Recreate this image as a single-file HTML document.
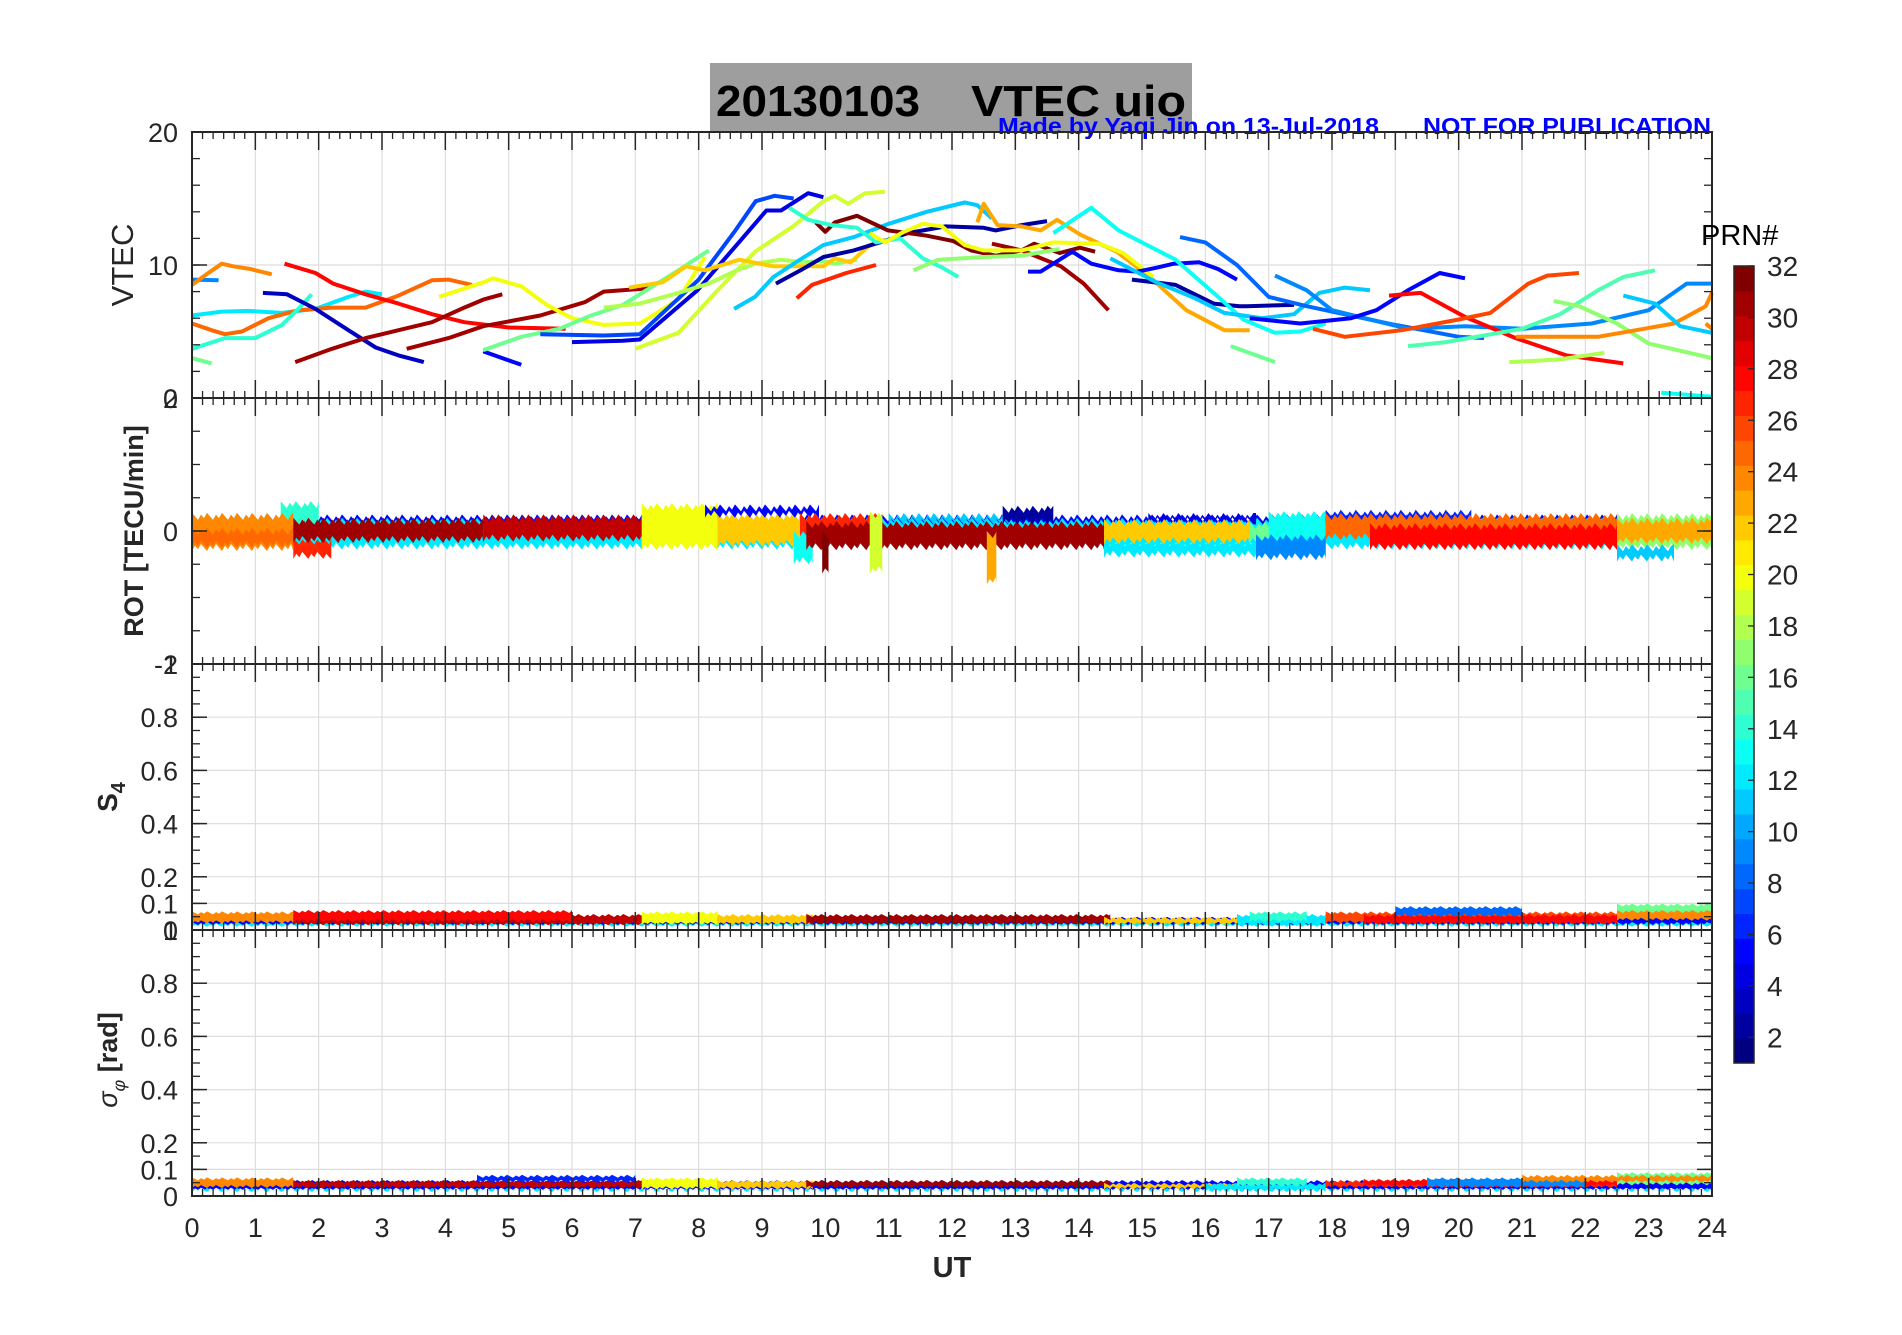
<!DOCTYPE html>
<html><head><meta charset="utf-8"><style>
html,body{margin:0;padding:0;background:#fff;}
svg text{font-family:"Liberation Sans",sans-serif;}
</style></head><body>
<svg id="fig" width="1902" height="1330" viewBox="0 0 1902 1330" xmlns="http://www.w3.org/2000/svg">
<rect x="0" y="0" width="1902" height="1330" fill="#fff"/>
<rect x="710" y="63" width="482" height="70" fill="#9e9e9e"/>
<text x="716" y="116" font-size="44" font-weight="bold" fill="#000" textLength="204" lengthAdjust="spacingAndGlyphs">20130103</text>
<text x="971" y="116" font-size="44" font-weight="bold" fill="#000" textLength="215" lengthAdjust="spacingAndGlyphs">VTEC  uio</text>
<text x="998" y="134" font-size="23" font-weight="bold" fill="#0000ff" textLength="381" lengthAdjust="spacingAndGlyphs">Made by Yaqi Jin on 13-Jul-2018</text>
<text x="1423" y="134" font-size="23" font-weight="bold" fill="#0000ff" textLength="288" lengthAdjust="spacingAndGlyphs">NOT FOR PUBLICATION</text>
<g id="grid"></g>
<g id="marks"></g>
<g id="axes"></g>
<g id="cbar"></g>
</svg>
<script>
// ---------- data ----------
const xTicks = [0,1,2,3,4,5,6,7,8,9,10,11,12,13,14,15,16,17,18,19,20,21,22,23,24];
const vtecTicks = [0,10,20];
const rotTicks = [-2,0,2];
const s4Ticks = [0,0.1,0.2,0.4,0.6,0.8,1];
const sigTicks = [0,0.1,0.2,0.4,0.6,0.8,1];
const cbarTicks = [2,4,6,8,10,12,14,16,18,20,22,24,26,28,30,32];

// VTEC arcs: PRN, times (UT h), values (TECU)
const arcPrn = [9,24,12,25,14,16,3,28,31,31,20,5,16,7,4,19,18,17,22,11,2,27,32,31,14,17,23,20,5,2,13,11,8,16,9,5,28,26,15,17,18,24,11,24,13];
const arcTimes = [
 [0,0.42],
 [0,0.23,0.47,0.65,0.92,1.26],
 [0,0.47,0.89,1.42,1.95,2.47,2.74,3.0],
 [0,0.31,0.52,0.79,1.21,1.68,2.21,2.74,3.26,3.79,4.05,4.42],
 [0,0.52,1,1.42,1.68,1.89],
 [0,0.31],
 [1.12,1.5,1.95,2.47,2.9,3.26,3.66],
 [1.46,1.95,2.23,2.74,3.26,3.79,4.3,5,5.9],
 [1.63,2.21,2.74,3.26,3.79,4.3,4.6,4.9],
 [3.39,4.05,4.6,5.5,6.2,6.5,7.1,7.3],
 [3.9,4.6,4.75,5.2,5.6,6,6.5,7.07,7.68,8.1],
 [4.6,5.2],
 [4.6,5.2,5.8,6.3,6.8,7.07,7.68,8.16],
 [5.5,6.5,7.07,8,8.58,8.9,9.2,9.5],
 [6,6.8,7.07,7.98,8.58,9.07,9.3,9.73,9.97],
 [7,7.68,8.28,8.89,9.49,9.97,10.15,10.36,10.63,10.94],
 [6.5,7.07,7.68,8.16,8.6,8.89,9.3,9.67],
 [9.67,9.97,10.15,10.5],
 [6.9,7.43,7.8,8.1,8.64,9.18,9.97,10.15,10.4,10.7,10.94],
 [8.56,8.89,9.18,9.6,9.97,10.45,11,11.6,12.2,12.4,12.63],
 [9.22,9.61,9.97,10.45,11,11.3,11.9,12.5,12.69,13.1,13.5],
 [9.55,9.79,10.33,10.8],
 [9.85,10.0,10.15,10.5,10.99,11.6,12.02,12.3,12.69,13.1,13.3,13.7,14.02,14.26],
 [12.63,13.1,13.72,14.08,14.47],
 [9.43,9.73,10.1,10.5,10.8,11.18,11.54,11.85,12.1],
 [11.39,11.78,12.5,13.1,13.7],
 [12.4,12.5,12.72,13.1,13.4,13.66,14.02,14.6,15.1,15.7,16.3,16.7],
 [10.7,10.94,11.24,11.54,11.84,12.2,12.5,13.1,13.6,14.33,14.7,15.18],
 [13.2,13.4,13.9,14.2,14.63,14.93,15.23,15.5,15.9,16.2,16.5],
 [14.84,15.53,16.13,16.54,16.65,17.4],
 [13.6,14.2,14.63,15.53,16.13,16.6,17.1,17.5,17.9],
 [14.5,15.23,15.84,16.3,16.9,17.4,17.8,18.2,18.6],
 [15.6,16,16.5,17,17.6,18.1,19,20,20.4],
 [16.4,17.1],
 [17.1,17.6,18,18.6,19.2,20.1,21,22.1,23,23.6,24],
 [16.7,17.5,18.3,18.7,19.2,19.7,20.1],
 [18.9,19.4,20.1,20.9,21.7,22.6],
 [17.7,18.2,19.1,20,20.5,21.1,21.4,21.9],
 [19.2,19.8,21,21.6,22.2,22.6,23.1],
 [21.5,21.9,22.5,23,24],
 [20.8,21.6,22.3],
 [20.9,21.3,22.2,22.8,23.4,23.9,24],
 [22.6,23.1,23.5,24],
 [23.9,24],
 [23.2,24]
];
const arcVals = [
 [8.9,8.85],
 [8.5,9.3,10.1,9.9,9.7,9.3],
 [6.2,6.5,6.55,6.4,6.7,7.6,8,7.8],
 [5.6,5.1,4.8,5,6,6.6,6.8,6.8,7.7,8.85,8.9,8.5],
 [3.7,4.5,4.5,5.5,6.7,7.8],
 [3,2.6],
 [7.9,7.8,6.7,5.1,3.8,3.2,2.7],
 [10.1,9.4,8.6,7.8,7.1,6.3,5.7,5.3,5.2],
 [2.7,3.7,4.5,5.1,5.7,6.8,7.4,7.8],
 [3.7,4.5,5.4,6.2,7.2,8,8.2,8.6],
 [7.6,8.7,9,8.4,7,6,5.5,5.6,7.4,10.6],
 [3.5,2.5],
 [3.6,4.6,5.2,6.2,7,7.8,9.6,11.1],
 [4.8,4.7,4.8,8.9,12.6,14.8,15.2,15],
 [4.2,4.3,4.4,8.1,11.4,14.1,14.1,15.4,15.1],
 [3.7,4.9,8,11,12.9,14.8,15.2,14.6,15.4,15.5],
 [6.8,7.1,7.9,8.6,9.6,10.1,10.4,10.2],
 [10.2,10.3,10.1,10.4],
 [8.3,8.7,9.9,9.6,10.4,9.9,9.9,10.5,10.2,11.5,11.9],
 [6.7,7.6,9.1,10.4,11.5,12.1,13.1,14,14.7,14.5,13.5],
 [8.6,9.6,10.6,11.1,11.9,12.4,12.9,12.8,12.6,13,13.3],
 [7.5,8.5,9.4,10],
 [13.2,12.5,13.2,13.7,12.6,12.2,11.8,11.1,10.7,11.1,11.6,10.9,11.3,11],
 [11.6,11.1,9.9,8.6,6.6],
 [14.3,13.4,13,12.8,11.7,12,10.5,9.8,9.1],
 [9.6,10.4,10.6,10.7,11.2],
 [13.2,14.6,13,12.9,12.6,13.4,12.3,11,9.2,6.6,5.1,5.1],
 [12.4,11.7,12.5,13.1,12.9,11.5,11.1,11.1,11.7,11.6,10.9,9.1],
 [9.5,9.5,11,10.1,9.6,9.5,9.8,10.1,10.2,9.7,8.9],
 [8.9,8.5,7.1,6.9,6.9,7],
 [12.4,14.3,12.6,10.4,7.9,5.9,4.9,5,5.6],
 [10.5,8.7,7.5,6.4,6,6.3,7.9,8.3,8.1],
 [12.1,11.7,10,7.6,6.9,6.4,5.5,4.6,4.5],
 [3.9,2.7],
 [9.2,8.1,6.6,5.9,5.2,5.4,5.2,5.6,6.6,8.6,8.6],
 [6,5.6,6,6.6,8.1,9.4,9],
 [7.7,7.9,6.1,4.5,3.2,2.6],
 [5.2,4.6,5.1,5.9,6.4,8.6,9.2,9.4],
 [3.9,4.2,5.2,6.3,8.1,9.1,9.6],
 [7.3,6.9,5.6,4.1,3],
 [2.7,2.9,3.4],
 [4.6,4.6,4.6,5.1,5.6,6.9,7.9],
 [7.7,7.1,5.4,4.9],
 [5.6,5.2],
 [0.4,0.1]
];

// ROT bands: PRN, start h, end h, low, high (TECU/min)
const rotPrn   = [5,12,10,14,27,17,24,25,31,30,20,22,5,13,27,31,32,19,11,2,23,12,4,22,16,13,9,17,6,25,28,23,11];
const rotStart = [0,0,0,1.4,1.6,22.5,0,0,1.6,4.6,7.1,8.3,8.1,9.5,9.6,9.7,9.95,10.7,11,12.8,12.55,14.4,15.1,14.4,16.7,17.0,16.8,21.4,17.9,17.9,18.6,22.5,22.5];
const rotEnd   = [24,24,1.6,2.0,2.2,24,1.6,1.6,4.6,7.2,8.3,9.6,9.9,9.8,10.9,14.4,10.05,10.9,12.9,13.6,12.7,17.9,16.8,16.7,17.3,17.9,17.9,24,20.2,22.5,22.5,24,23.4];
const rotLow   = [-0.25,-0.28,-0.1,0.05,-0.42,-0.29,-0.3,-0.25,-0.18,-0.16,-0.29,-0.24,0.2,-0.5,-0.08,-0.29,-0.64,-0.64,0.1,0.1,-0.8,-0.4,0.1,-0.2,-0.18,-0.2,-0.44,-0.22,0.1,-0.14,-0.29,-0.2,-0.46];
const rotHigh  = [0.25,0.2,0.27,0.45,-0.1,0.27,0.27,0.05,0.2,0.25,0.42,0.27,0.4,0,0.27,0.15,0,0.3,0.27,0.38,0,-0.12,0.27,0.18,0.14,0.3,-0.05,0.1,0.32,0.27,0.12,0.2,-0.2];

// S4 bands
const s4Prn   = [5,12,24,30,28,20,22,31,22,12,14,26,28,8,16,24];
const s4Start = [0,0,0,1.6,1.6,7.1,8.3,9.7,14.4,16.5,16.7,17.9,18.5,19.0,22.5,22.5];
const s4End   = [24,24,1.6,7.2,6.0,8.3,9.8,14.5,16.5,17.9,17.6,22.5,22.5,21.0,24,24];
const s4Low   = [0.015,0.012,0.025,0.018,0.03,0.02,0.02,0.02,0.02,0.015,0.03,0.025,0.02,0.05,0.04,0.035];
const s4High  = [0.05,0.03,0.07,0.06,0.075,0.07,0.06,0.06,0.05,0.06,0.07,0.07,0.06,0.09,0.1,0.075];

// sigma-phi bands
const sgPrn   = [5,12,24,30,6,20,22,31,22,12,14,27,28,9,16,24];
const sgStart = [0,0,0,1.6,4.5,7.1,8.3,9.7,14.4,16.0,16.5,17.9,18.5,19.5,22.5,21.0];
const sgEnd   = [24,24,1.6,7.2,7.0,8.3,9.8,14.5,16.5,17.9,17.6,22.5,22.5,22.0,24,24];
const sgLow   = [0.02,0.015,0.03,0.028,0.05,0.025,0.025,0.03,0.025,0.018,0.035,0.03,0.035,0.03,0.04,0.05];
const sgHigh  = [0.06,0.03,0.07,0.06,0.08,0.07,0.06,0.06,0.05,0.05,0.07,0.06,0.065,0.07,0.09,0.08];

// ---------- layout ----------
const NS='http://www.w3.org/2000/svg';
const L=192, R=1712;
const panels=[{top:132,bot:398,min:0,max:20},{top:398,bot:664,min:-2,max:2},{top:664,bot:930,min:0,max:1},{top:930,bot:1196,min:0,max:1}];
function X(h){return L+(R-L)*h/24;}
function Y(p,v){const P=panels[p];return P.bot-(v-P.min)/(P.max-P.min)*(P.bot-P.top);}
function jet(prn){
  const t=(prn-1)/31;
  const c=x=>Math.round(255*Math.max(0,Math.min(1,x)));
  return `rgb(${c(1.5-Math.abs(4*t-3))},${c(1.5-Math.abs(4*t-2))},${c(1.5-Math.abs(4*t-1))})`;
}
function el(tag,attrs,parent,text){const e=document.createElementNS(NS,tag);for(const k in attrs)e.setAttribute(k,attrs[k]);if(text!==undefined)e.textContent=text;parent.appendChild(e);return e;}
const gGrid=document.getElementById('grid'), gMarks=document.getElementById('marks'), gAxes=document.getElementById('axes'), gC=document.getElementById('cbar');
const yTickSets=[vtecTicks,rotTicks,s4Ticks,sigTicks];
const panelNames=['vtec','rot','s4','sigma-phi'];

// grid
panels.forEach((P,i)=>{
  xTicks.forEach(h=>{ if(h>0&&h<24){
    const g=el('line',{x1:X(h),x2:X(h),y1:P.top,y2:P.bot,stroke:'#dedede','stroke-width':1.2},gGrid);
    
    
  }});
  yTickSets[i].forEach(v=>{ if(v>P.min&&v<P.max){
    const g=el('line',{x1:L,x2:R,y1:Y(i,v),y2:Y(i,v),stroke:'#dedede','stroke-width':1.2},gGrid);
    
    
  }});
});

// VTEC arcs
arcPrn.forEach((prn,k)=>{
  const pts=arcTimes[k].map((t,j)=>X(t).toFixed(1)+','+Y(0,arcVals[k][j]).toFixed(1)).join(' ');
  const pl=el('polyline',{points:pts,fill:'none',stroke:jet(prn),'stroke-width':4,'stroke-linejoin':'round'},gMarks);
  
  
});
// noisy-looking bands: jagged edge texture (pure styling, fixed saw pattern)
function bands(p,prns,st,en,lo,hi,name,amp){
  prns.forEach((prn,k)=>{
    const y1=Y(p,hi[k]), y2=Math.max(Y(p,lo[k]),y1+2);
    const x0=X(st[k]), x1=Math.max(X(en[k]),x0+3);
    const top=[], bot=[];
    let i=0;
    for(let x=x0;x<x1;x+=3,i++){
      const j=((i*7)%5)/4;
      top.push(x.toFixed(1)+','+(y1+amp*j).toFixed(1));
      bot.push(x.toFixed(1)+','+(y2-amp*(((i*3)%5)/4)).toFixed(1));
    }
    top.push(x1.toFixed(1)+','+y1.toFixed(1));
    bot.push(x1.toFixed(1)+','+y2.toFixed(1));
    const pg=el('polygon',{points:top.concat(bot.reverse()).join(' '),fill:jet(prn)},gMarks);
    
    
  });
}
bands(1,rotPrn,rotStart,rotEnd,rotLow,rotHigh,'rot',7);
bands(2,s4Prn,s4Start,s4End,s4Low,s4High,'s4',3);
bands(3,sgPrn,sgStart,sgEnd,sgLow,sgHigh,'sigma',3);

// axes frames + ticks
panels.forEach((P,i)=>{
  const f=el('rect',{x:L,y:P.top,width:R-L,height:P.bot-P.top,fill:'none',stroke:'#262626','stroke-width':2},gAxes);
  
  
  for(let m=1;m<144;m++){ if(m%6===0)continue; const x=X(m/6);
    el('line',{x1:x,x2:x,y1:P.top,y2:P.top+7,stroke:'#262626','stroke-width':1.3},gAxes);
    el('line',{x1:x,x2:x,y1:P.bot,y2:P.bot-7,stroke:'#262626','stroke-width':1.3},gAxes);
  }
  xTicks.forEach(h=>{const x=X(h);
    el('line',{x1:x,x2:x,y1:P.top,y2:P.top+18,stroke:'#262626','stroke-width':1.5},gAxes);
    el('line',{x1:x,x2:x,y1:P.bot,y2:P.bot-18,stroke:'#262626','stroke-width':1.5},gAxes);
  });
  const step=(i===0)?2:(i===1?0.5:0.05);
  for(let v=P.min;v<=P.max+1e-9;v+=step){const y=Y(i,v);
    el('line',{x1:L,x2:L+8,y1:y,y2:y,stroke:'#262626','stroke-width':1.3},gAxes);
    el('line',{x1:R,x2:R-8,y1:y,y2:y,stroke:'#262626','stroke-width':1.3},gAxes);
  }
  yTickSets[i].forEach(v=>{const y=Y(i,v);
    el('line',{x1:L,x2:L+15,y1:y,y2:y,stroke:'#262626','stroke-width':1.5},gAxes);
    el('line',{x1:R,x2:R-15,y1:y,y2:y,stroke:'#262626','stroke-width':1.5},gAxes);
    const t=el('text',{x:178,y:y+10,'font-size':27,'text-anchor':'end',fill:'#262626'},gAxes,String(v));
    
    
  });
});
xTicks.forEach(h=>{
  const t=el('text',{x:X(h),y:1237,'font-size':27,'text-anchor':'middle',fill:'#262626'},gAxes,String(h));
  
  
});
const ut=el('text',{x:952,y:1277,'font-size':29,'font-weight':'bold','text-anchor':'middle',fill:'#262626'},gAxes,'UT');


const yl1=el('text',{x:0,y:0,'font-size':31,'text-anchor':'middle',fill:'#262626',transform:'translate(133,265) rotate(-90)'},gAxes,'VTEC');


const yl2=el('text',{x:0,y:0,'font-size':27,'font-weight':'bold','text-anchor':'middle',fill:'#262626',transform:'translate(143,531) rotate(-90)'},gAxes,'ROT [TECU/min]');


const yl3=el('text',{x:0,y:0,'font-size':28,'font-weight':'bold','text-anchor':'middle',fill:'#262626',transform:'translate(117,797) rotate(-90)'},gAxes);
yl3.innerHTML='S<tspan font-size="20" dy="8">4</tspan>';


const yl4=el('text',{x:0,y:0,'font-size':27,'font-weight':'bold','text-anchor':'middle',fill:'#262626',transform:'translate(117,1060) rotate(-90)'},gAxes);
yl4.innerHTML='<tspan font-style="italic" font-weight="normal">σ</tspan><tspan font-size="18" dy="8" font-style="italic" font-weight="normal">φ</tspan><tspan dy="-8"> [rad]</tspan>';



// colorbar
const CT=266, CB=1063, CL=1734, CW=20;
for(let k=0;k<32;k++){
  const h=(CB-CT)/32;
  const r=el('rect',{x:CL,y:CB-(k+1)*h,width:CW,height:h+0.5,fill:jet(k+1)},gC);
  
  
}
const cf=el('rect',{x:CL,y:CT,width:CW,height:CB-CT,fill:'none',stroke:'#262626','stroke-width':1.5},gC);


cbarTicks.forEach(v=>{
  const y=CB-(v-1)/31*(CB-CT);
  el('line',{x1:CL+CW-6,x2:CL+CW,y1:y,y2:y,stroke:'#262626','stroke-width':1.3},gC);
  const t=el('text',{x:1767,y:y+10,'font-size':28,fill:'#262626'},gC,String(v));
  
  
});
const pl=el('text',{x:1701,y:245,'font-size':29,fill:'#000'},gC,'PRN#');


</script>
</body></html>
